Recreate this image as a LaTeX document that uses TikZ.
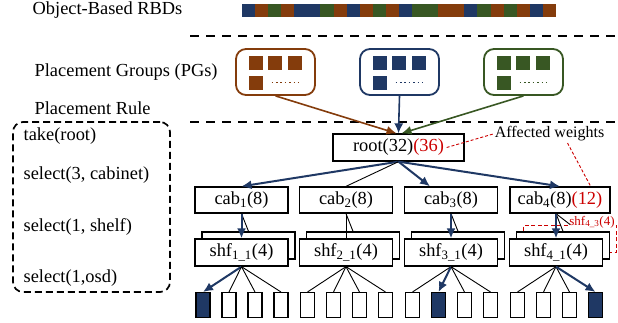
\documentclass[tikz,border=0pt]{standalone}
\usepackage{fontspec}
\setmainfont{Liberation Serif}
\usetikzlibrary{arrows.meta}
\definecolor{pgbrown}{RGB}{132,60,12}
\definecolor{pgblue}{RGB}{31,56,100}
\definecolor{pggreen}{RGB}{56,87,35}
\definecolor{wred}{RGB}{204,0,0}

\begin{document}
\begin{tikzpicture}[x=1pt,y=-1pt,line width=1.3pt,>={Latex[length=10pt,width=9pt]},
  txt/.style={font=\fontsize{18.4}{21}\selectfont,inner sep=0pt},
  box/.style={draw,fill=white,minimum width=93pt,minimum height=27pt,inner sep=0pt,font=\fontsize{18.4}{21}\selectfont},
  osd/.style={draw,minimum width=14pt,minimum height=25pt,inner sep=0pt},
  selarr/.style={pgblue,line width=2pt,->},
  tline/.style={line width=0.9pt},
  sepline/.style={line width=1.8pt,dash pattern=on 9pt off 7pt},
  wline/.style={wred,line width=0.9pt,dash pattern=on 3pt off 2pt},
  pg/.style={draw,line width=1.8pt,rounded corners=10pt,minimum width=79pt,minimum height=46pt}]
  \useasboundingbox (0,0) rectangle (618,323);

  % etiquetas
  \node[txt,anchor=west] (lrbd) at (32,10) {Object-Based RBDs};
  \node[txt,anchor=west] (lpg) at (34,72) {Placement Groups (PGs)};
  \node[txt,anchor=west] (lrule) at (34,108) {Placement Rule};

  % objetos (RBDs)
  \foreach \c [count=\n from 0] in {pgblue,pgbrown,pggreen,pgbrown,pgblue,pgblue,pggreen,pgbrown,pgblue,pgbrown,pggreen,pgbrown,pgblue,pggreen,pggreen,pgbrown,pgbrown,pgblue,pggreen,pgbrown,pggreen,pgbrown,pgblue,pgbrown}
    \fill[\c] ({242+13.08*\n},4.5) rectangle ++(13.08,13);

  \draw[sepline] (190,36) -- (618,36);
  \draw[sepline] (190,122) -- (618,122);

  % PGs
  \foreach \i/\cx/\col in {a/275.5/pgbrown,b/399.5/pgblue,c/523.5/pggreen}{
    \node[pg,draw=\col] (pg\i) at (\cx,72) {};
    \foreach \dx in {-19.5,-0.5,19.5}
      \fill[\col] ({\cx+\dx-7},56) rectangle ++(14,14);
    \fill[\col] ({\cx-26.5},76) rectangle ++(14,14);
    \draw[\col,line width=1.6pt,dash pattern=on 1.6pt off 2.8pt] ({\cx-4},82.5) -- ({\cx+23},82.5);
  }

  % regla
  \node[draw,dash pattern=on 7pt off 4pt,line width=1.7pt,rounded corners=10pt,minimum width=157pt,minimum height=170pt] (rule) at (91.5,207) {};
  \node[txt,anchor=west] (r1) at (23,136) {take(root)};
  \node[txt,anchor=west] (r2) at (23,175) {select(3, cabinet)};
  \node[txt,anchor=west] (r3) at (23,227) {select(1, shelf)};
  \node[txt,anchor=west] (r4) at (23,278) {select(1,osd)};

  % arbol
  \node[box,minimum width=131pt] (root) at (398.5,147.5) {root(32)\textcolor{wred}{(36)}};
  \draw[pgbrown,->,line width=1.6pt] (pga.south) -- ([xshift=-2pt]root.north);
  \draw[pgblue,->,line width=1.6pt] (pgb.south) -- (root.north);
  \draw[pggreen,->,line width=1.6pt] (pgc.south) -- ([xshift=3pt]root.north);

  \node[box,minimum height=26pt] (cab1) at (241.5,200) {cab\textsubscript{1}(8)};
  \node[box,minimum height=26pt] (cab2) at (346,200) {cab\textsubscript{2}(8)};
  \node[box,minimum height=26pt] (cab3) at (451,200) {cab\textsubscript{3}(8)};
  \node[box,minimum height=26pt,minimum width=100pt] (cab4) at (560,200) {cab\textsubscript{4}(8)\textcolor{wred}{(12)}};

  \node[box,draw=wred,fill=none,line width=1pt,dash pattern=on 4pt off 2.5pt] (shf4c) at (570,238.5) {};
  \node[fill=white,inner sep=0.5pt,text=wred,font=\fontsize{13}{14}\selectfont] (l43) at (592,222) {shf\textsubscript{4\_3}(4)};
  \foreach \g/\cx in {1/241.5,2/346,3/451,4/556}{
    \node[box] (shfb\g) at ({\cx+7},245.5) {};
    \node[box] (shf\g) at (\cx,252.5) {shf\textsubscript{\g\_1}(4)};
  }

  \node[font=\fontsize{16}{18}\selectfont,inner sep=1pt] (aff) at (549.5,134) {Affected weights};
  \draw[wline] ([xshift=-18pt]root.east) -- (aff.west);
  \draw[wline] ([xshift=18pt]aff.south) -- ([xshift=-20pt]cab4.north east);

  \draw[selarr] (root.south) -- (cab1.north);
  \draw[tline] (root.south) -- (cab2.north);
  \draw[selarr] (root.south) -- ([xshift=-21pt]cab3.north);
  \draw[selarr] (root.south) -- (cab4.north);

  \coordinate (c4) at (shf4.north |- cab4.south);
  \foreach \g in {1,2,3}
    \draw[tline] (cab\g.south) -- (shfb\g.north);
  \draw[tline] (c4) -- (shfb4.north);
  \draw[tline] (c4) -- (shf4c.north);
  \draw[selarr] (cab1.south) -- (shf1.north);
  \draw[tline] (cab2.south) -- (shf2.north);
  \draw[selarr] (cab3.south) -- (shf3.north);
  \draw[selarr] (c4) -- (shf4.north);

  % osds
  \foreach \g/\s in {1/1,2/0,3/2,4/4}{
    \foreach \k in {1,...,4}{
      \ifnum\k=\s \def\fc{pgblue}\else\def\fc{white}\fi
      \path (shf\g.south) ++({-64.5+26*\k},38.5) node[osd,fill=\fc] (o\g\k) {};
      \ifnum\k=\s
        \draw[selarr] (shf\g.south) -- (o\g\k.north);
      \else
        \draw[tline] (shf\g.south) -- (o\g\k.north);
      \fi
    }
  }
\end{tikzpicture}
\end{document}
